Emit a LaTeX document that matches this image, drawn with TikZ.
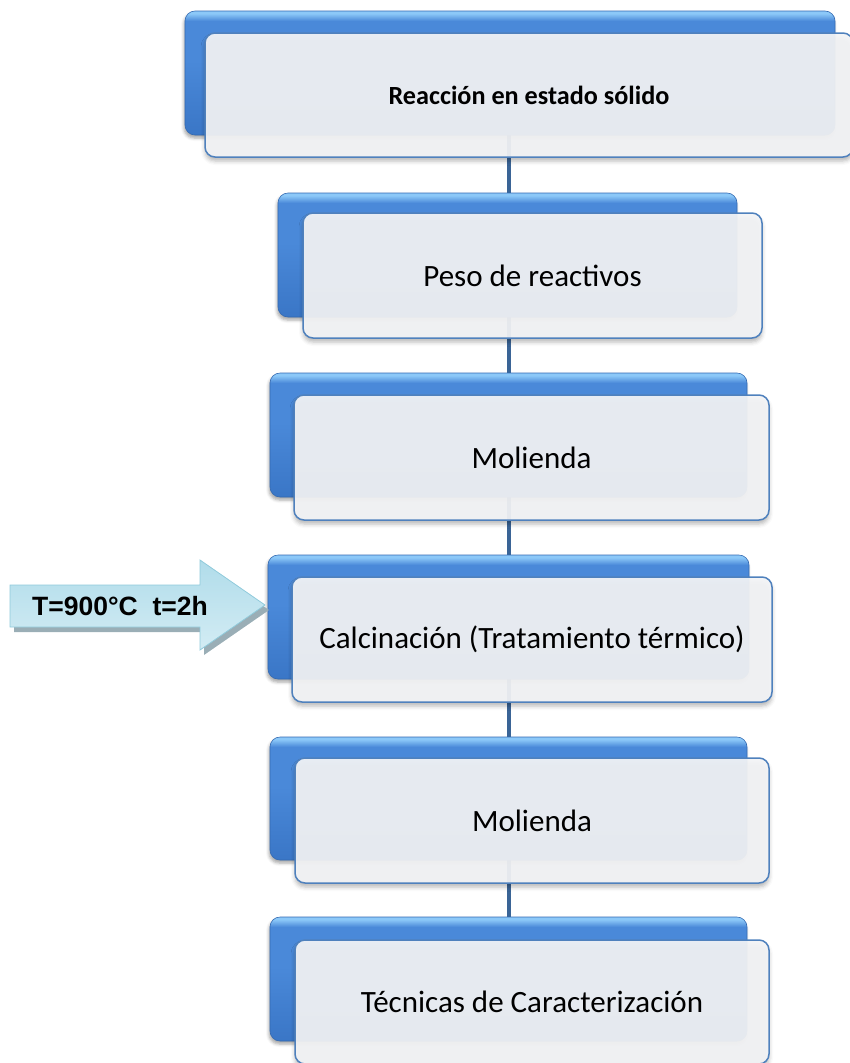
\documentclass[tikz,border=0pt]{standalone}
\usepackage{fontspec}
\setmainfont{Carlito}
\newfontfamily\labelfont{Liberation Sans}
\usetikzlibrary{shadows.blur}

\definecolor{spinecol}{HTML}{3A6496}
\definecolor{frameblue}{HTML}{4F81BD}
\definecolor{cardfill}{HTML}{F4F5F7}
\definecolor{barhi}{HTML}{8CC8F8}
\definecolor{barmid}{HTML}{4A89D9}
\definecolor{barlow}{HTML}{3A76C6}
\definecolor{arrowedge}{HTML}{8FCADB}
\definecolor{arrowtop}{HTML}{B0DCEA}
\definecolor{arrowbot}{HTML}{D3ECF4}
\definecolor{arrowshadow}{HTML}{9AAEB6}

% the shading is stretched so that 25bp..75bp covers the shape
\pgfdeclareverticalshading{barshade}{100bp}{%
  color(0bp)=(barlow); color(25bp)=(barlow); color(55bp)=(barmid);
  color(71bp)=(barmid); color(74bp)=(barhi); color(100bp)=(barhi)}

\pgfdeclarelayer{back}
\pgfsetlayers{back,main}

\tikzset{
  bar/.style={rectangle, rounded corners=10pt, inner sep=0pt, outer sep=0pt,
    shading=barshade, draw=barlow!90!black, line width=0.6pt,
    blur shadow={shadow xshift=-1pt, shadow yshift=-3pt,
      shadow blur radius=3pt, shadow opacity=35}},
  card/.style={rectangle, rounded corners=10pt, inner sep=0pt, outer sep=0pt,
    fill=cardfill, fill opacity=0.93, text opacity=1,
    draw=frameblue, line width=1.5pt, align=center,
    font=\fontsize{31}{37}\selectfont,
    blur shadow={shadow xshift=0pt, shadow yshift=-4pt,
      shadow blur radius=4pt, shadow opacity=30}},
  spineline/.style={draw=spinecol, line width=4pt},
  inarrow/.style={draw=arrowedge, line width=0.8pt,
    top color=arrowtop, bottom color=arrowbot},
  inarrowshadow/.style={fill=arrowshadow, shift={(4,5)}},
}

\begin{document}
\begin{tikzpicture}[x=1pt, y=-1pt]
  \useasboundingbox (0,0) rectangle (849,1063);
  \coordinate (spine) at (509,0);

  % blue backing bars
  \node[bar, minimum width=650, minimum height=124] (b1) at (510,73) {};
  \node[bar, minimum width=459, minimum height=124] (b2) at (507.5,255) {};
  \node[bar, minimum width=477, minimum height=124] (b3) at (508.5,435) {};
  \node[bar, minimum width=481, minimum height=124] (b4) at (508.5,617) {};
  \node[bar, minimum width=477, minimum height=123] (b5) at (508.5,798.5) {};
  \node[bar, minimum width=477, minimum height=124] (b6) at (508.5,979) {};

  % front cards with the step names
  \node[card, minimum width=648, minimum height=124,
        font=\bfseries\fontsize{26.2}{31}\selectfont] (c1) at (529,95)
        {Reacción en estado sólido};
  \node[card, minimum width=459, minimum height=125] (c2) at (532.5,275.5)
        {Peso de reactivos};
  \node[card, minimum width=475, minimum height=125] (c3) at (531.5,457.5)
        {Molienda};
  \node[card, minimum width=480, minimum height=125] (c4) at (532,639.5)
        {Calcinación (Tratamiento térmico)};
  \node[card, minimum width=474, minimum height=125] (c5) at (532,820.5)
        {Molienda};
  \node[card, minimum width=474, minimum height=124] (c6) at (532,1002)
        {Técnicas de Caracterización};

  % vertical spine joining the steps
  \begin{pgfonlayer}{back}
    \draw[spineline] (b1.south -| spine) -- (b2.north -| spine);
    \draw[spineline] (b2.south -| spine) -- (b3.north -| spine);
    \draw[spineline] (b3.south -| spine) -- (b4.north -| spine);
    \draw[spineline] (b4.south -| spine) -- (b5.north -| spine);
    \draw[spineline] (b5.south -| spine) -- (b6.north -| spine);
  \end{pgfonlayer}

  % process conditions arrow, with its hard drop shadow
  \path[inarrowshadow] (10,585) -- (200,585) -- (200,560) -- (265,605)
    -- (200,650) -- (200,627) -- (10,627) -- cycle;
  \path[inarrow] (10,585) -- (200,585) -- (200,560) -- (265,605)
    -- (200,650) -- (200,627) -- (10,627) -- cycle;
  \node[font=\labelfont\bfseries\fontsize{26.5}{31}\selectfont, inner sep=0pt]
    (cond) at (120,606) {T=900°C\ \ t=2h};
\end{tikzpicture}
\end{document}
